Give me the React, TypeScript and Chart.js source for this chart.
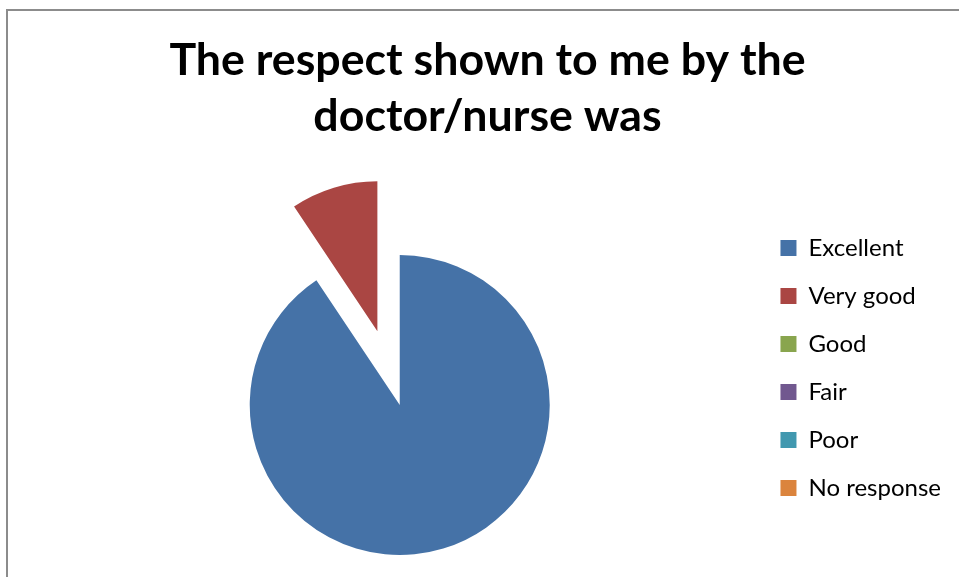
import { useEffect, useRef } from 'react';
import { Chart, registerables } from 'chart.js';

Chart.register(...registerables);

const TITLE_LINES = ['The respect shown to me by the', 'doctor/nurse was'];
const CATEGORIES = ['Excellent', 'Very good', 'Good', 'Fair', 'Poor', 'No response'];
const RESPONSES = [29, 3, 0, 0, 0, 0];
const COLORS = ['#4572A7', '#AA4643', '#89A54E', '#71588F', '#4198AF', '#DB843D'];
const EXPLODE = [0, 77, 0, 0, 0, 0];

const explodePlugin = {
  id: 'explodeSlices',
  beforeDatasetsDraw(chart: any) {
    const meta = chart.getDatasetMeta(0);
    meta.data.forEach((arc: any, i: number) => {
      const d = EXPLODE[i] || 0;
      if (!d || arc.__exploded) return;
      const baseDraw = arc.draw;
      arc.draw = function (ctx: CanvasRenderingContext2D, area: any) {
        const mid = (this.startAngle + this.endAngle) / 2;
        ctx.save();
        ctx.translate(Math.cos(mid) * d, Math.sin(mid) * d);
        baseDraw.call(this, ctx, area);
        ctx.restore();
      };
      arc.__exploded = true;
    });
  },
};

export default function App() {
  const ref = useRef<HTMLCanvasElement | null>(null);

  useEffect(() => {
    if (!ref.current) return;
    const chart = new Chart(ref.current, {
      type: 'pie',
      data: {
        labels: CATEGORIES,
        datasets: [
          {
            data: RESPONSES,
            backgroundColor: COLORS,
            borderWidth: 0,
            radius: 150,
          } as any,
        ],
      },
      plugins: [explodePlugin],
      options: {
        animation: false,
        responsive: true,
        maintainAspectRatio: false,
        events: [],
        layout: { padding: { top: 33, bottom: 0, left: 24, right: 8 } },
        plugins: {
          tooltip: { enabled: false },
          title: {
            display: true,
            text: TITLE_LINES,
            color: '#000',
            font: { family: 'Lato', weight: 'bold', size: 44.7, lineHeight: '56px' } as any,
            padding: { top: 0, bottom: 88 },
            fullSize: true,
          },
          subtitle: {
            display: true,
            position: 'left',
            text: ' ',
            fullSize: false,
            font: { size: 1, lineHeight: '1px' } as any,
            padding: { top: 18, bottom: 0 },
          },
          legend: {
            display: true,
            position: 'right',
            align: 'start',
            fullSize: true,
            title: {
              display: true,
              text: '',
              font: { size: 1, lineHeight: '1px' } as any,
              padding: { top: 178, bottom: 0 },
            },
            labels: {
              boxWidth: 16,
              boxHeight: 16,
              padding: 24,
              color: '#000',
              font: { family: 'Lato', size: 24 },
            },
          },
        },
      } as any,
    });
    return () => chart.destroy();
  }, []);

  return (
    <div style={{ position: 'absolute', left: 0, top: 0, width: 959, height: 577, background: '#fff' }}>
      <div
        style={{
          position: 'absolute',
          left: 6,
          top: 9,
          width: 953,
          height: 568,
          borderLeft: '2px solid #8c8c8c',
          borderTop: '2px solid #8c8c8c',
          boxSizing: 'border-box',
        }}
      />
      <div style={{ position: 'absolute', left: 0, top: 0, width: 959, height: 577 }}>
        <canvas ref={ref} />
      </div>
    </div>
  );
}
